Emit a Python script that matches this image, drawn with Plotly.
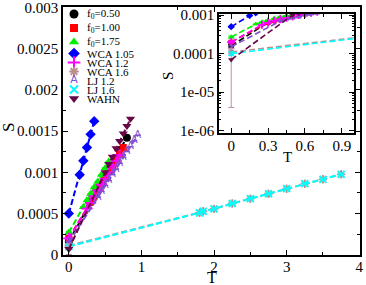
import plotly.graph_objects as go

# ---------------- data ----------------
T_f050 = [0.0, 0.3, 0.4, 0.5, 0.6, 0.7, 0.8]
S_f050 = [0.00016, 0.00064, 0.00080, 0.00096, 0.00112, 0.00127, 0.00142]

T_f100 = [0.0, 0.3, 0.35, 0.4, 0.45, 0.5, 0.55, 0.6, 0.65, 0.7, 0.75]
S_f100 = [0.00020, 0.00064, 0.00071, 0.00079, 0.00086, 0.00093, 0.00101, 0.00108, 0.00116, 0.00123, 0.00130]

T_f175 = [0.0, 0.2, 0.25, 0.3, 0.35, 0.4, 0.45, 0.5, 0.55]
S_f175 = [0.00027, 0.00058, 0.00066, 0.00074, 0.00082, 0.00089, 0.00097, 0.00105, 0.00113]

T_wca105 = [0.0, 0.15, 0.2, 0.25, 0.3, 0.35]
S_wca105 = [0.00050, 0.00097, 0.00114, 0.00130, 0.00146, 0.00162]

T_wca12 = [0.0, 0.25, 0.3, 0.35, 0.4, 0.45, 0.5, 0.55, 0.6, 0.65, 0.7]
S_wca12 = [0.00020, 0.00056, 0.00063, 0.00071, 0.00078, 0.00085, 0.00092, 0.00100, 0.00107, 0.00114, 0.00121]

T_wca16 = [0.0, 1.8, 1.85, 2.0, 2.25, 2.5, 2.75, 3.0, 3.25, 3.5, 3.75]
S_wca16 = [0.00011, 0.000508, 0.000528, 0.000557, 0.000622, 0.000680, 0.000740, 0.000801, 0.000862, 0.000915, 0.000976]

T_lj12 = [0.0, 0.4, 0.45, 0.5, 0.55, 0.6, 0.65, 0.7, 0.75, 0.8, 0.85, 0.9, 0.95]
S_lj12 = [0.00015, 0.00070, 0.00077, 0.00084, 0.00090, 0.00097, 0.00104, 0.00111, 0.00118, 0.00125, 0.00131, 0.00138, 0.00145]

T_lj16 = [0.0, 1.8, 1.85, 2.0, 2.25, 2.5, 2.75, 3.0, 3.25, 3.5, 3.75]
S_lj16 = [0.00010, 0.000508, 0.000528, 0.000557, 0.000622, 0.000680, 0.000740, 0.000801, 0.000862, 0.000915, 0.000976]

T_wahn = [0.0, 0.5, 0.55, 0.6, 0.65, 0.7, 0.75, 0.8, 0.85]
S_wahn = [0.00007, 0.00100, 0.00110, 0.00119, 0.00129, 0.00138, 0.00147, 0.00156, 0.00165]

# error on the T=0 (extrapolated) values
ERR0 = {"f050": 1.2e-5, "f100": 1.5e-5, "f175": 1.5e-5, "wca105": 1.5e-5, "wca12": 1.5e-5,
        "wca16": 1.2e-5, "lj12": 1.5e-5, "lj16": 1.0e-5, "wahn": 6.6e-5}

X_TICKS = [0, 1, 2, 3, 4]
X_TICK_LABELS = ["0", "1", "2", "3", "4"]
Y_TICKS = [0, 0.0005, 0.001, 0.0015, 0.002, 0.0025, 0.003]
Y_TICK_LABELS = ["0", "0.0005", "0.001", "0.0015", "0.002", "0.0025", "0.003"]
IX_TICKS = [0, 0.3, 0.6, 0.9]
IX_TICK_LABELS = ["0", "0.3", "0.6", "0.9"]
IY_TICKS = [1e-6, 1e-5, 1e-4, 1e-3]
IY_TICK_LABELS = ["1e-06", "1e-05", "0.0001", "0.001"]

series = [
    dict(key="f050", name="f<sub>0</sub>=0.50", T=T_f050, S=S_f050, color="#000000", symbol="circle", size=8, open=False),
    dict(key="f100", name="f<sub>0</sub>=1.00", T=T_f100, S=S_f100, color="#ff0000", symbol="square", size=7, open=False),
    dict(key="f175", name="f<sub>0</sub>=1.75", T=T_f175, S=S_f175, color="#00ee00", symbol="triangle-up", size=8, open=False),
    dict(key="wca105", name="WCA 1.05", T=T_wca105, S=S_wca105, color="#0000ff", symbol="diamond", size=8, open=False),
    dict(key="wca12", name="WCA 1.2", T=T_wca12, S=S_wca12, color="#ff00ff", symbol="cross-thin-open", size=8, open=True),
    dict(key="wca16", name="WCA 1.6", T=T_wca16, S=S_wca16, color="#bc8f8f", symbol="asterisk-open", size=7, open=True),
    dict(key="lj12", name="LJ 1.2", T=T_lj12, S=S_lj12, color="#8050d0", symbol="text", size=10, open=False),
    dict(key="lj16", name="LJ 1.6", T=T_lj16, S=S_lj16, color="#00ffff", symbol="x-thin-open", size=7, open=True),
    dict(key="wahn", name="WAHN", T=T_wahn, S=S_wahn, color="#670748", symbol="triangle-down", size=8, open=False),
]

FONT = "Liberation Serif"
DASH = "6px,3px"

fig = go.Figure()


def add_series(s, xa, ya, scale):
    err = [ERR0[s["key"]]] + [0] * (len(s["T"]) - 1)
    ecol = "#b88fb0" if s["key"] == "wahn" else s["color"]
    ebar = dict(type="data", array=err, visible=True, color=ecol, thickness=1, width=3)
    line = dict(color=s["color"], width=2 if scale > 0.8 else 1.6, dash=DASH)
    if s["symbol"] == "text":
        fig.add_trace(go.Scatter(x=s["T"], y=s["S"], mode="lines+text", text=["A"] * len(s["T"]),
                                 textposition="middle center",
                                 textfont=dict(family="DejaVu Sans", size=s["size"] * scale, color=s["color"]),
                                 line=line, error_y=ebar, xaxis=xa, yaxis=ya, showlegend=False))
    else:
        mk = dict(symbol=s["symbol"], size=s["size"] * scale, color=s["color"])
        if s["open"]:
            mk["line"] = dict(color=s["color"], width=1.8)
        else:
            mk["line"] = dict(width=0)
        fig.add_trace(go.Scatter(x=s["T"], y=s["S"], mode="lines+markers", marker=mk, line=line,
                                 error_y=ebar, xaxis=xa, yaxis=ya, showlegend=False))


for s in series:
    add_series(s, "x", "y", 1.0)
for s in series:
    add_series(s, "x2", "y2", 0.7)

# ---------------- manual legend (compact rows) ----------------
row_h = [14 if "<sub>" in s["name"] else 9 for s in series]
centers = []
top = 0
for h in row_h:
    centers.append(-(top + h / 2.0))
    top += h
MARK_X, TEXT_X = 11, 22
annotations = []
for s, yc in zip(series, centers):
    if s["symbol"] == "text":
        fig.add_trace(go.Scatter(x=[MARK_X], y=[yc], mode="text", text=["A"],
                                 textfont=dict(family="DejaVu Sans", size=11, color=s["color"]),
                                 xaxis="x3", yaxis="y3", showlegend=False, hoverinfo="skip"))
    else:
        mk = dict(symbol=s["symbol"], size=s["size"] + 1, color=s["color"])
        mk["line"] = dict(color=s["color"], width=2) if s["open"] else dict(width=0)
        fig.add_trace(go.Scatter(x=[MARK_X], y=[yc], mode="markers", marker=mk,
                                 xaxis="x3", yaxis="y3", showlegend=False, hoverinfo="skip"))
    annotations.append(dict(x=TEXT_X, y=yc, xref="x3", yref="y3", text=s["name"], showarrow=False,
                            xanchor="left", yanchor="middle", font=dict(family=FONT, size=11, color="black")))

W, H = 366, 285
ML, MR, MT, MB = 63, 6, 7, 30
pw, ph = W - ML - MR, H - MT - MB


def px2paper(px, py):
    return (px - ML) / pw, (H - MB - py) / ph


# axis titles placed as annotations (pixel positions from reference)
for txt, (px, py), size, ang in [("S", (8, 128), 17, -90), ("T", (212, 277), 16, 0),
                                  ("T", (287, 157), 15, 0), ("S", (168, 76), 15, -90)]:
    ax_, ay_ = px2paper(px, py)
    annotations.append(dict(x=ax_, y=ay_, xref="paper", yref="paper", text=txt, showarrow=False,
                            textangle=ang, xanchor="center", yanchor="middle",
                            font=dict(family=FONT, size=size, color="black")))

axis_common = dict(showgrid=False, zeroline=False, showline=True, linecolor="black", linewidth=1.5,
                   mirror="ticks", ticks="inside", ticklen=5, tickwidth=1, tickcolor="black",
                   automargin=False, ticklabeloverflow="allow",
                   tickfont=dict(family=FONT, size=15, color="black"))

fig.update_layout(
    width=W, height=H,
    margin=dict(l=ML, r=MR, t=MT, b=MB, autoexpand=False),
    paper_bgcolor="white", plot_bgcolor="white",
    showlegend=False,
    annotations=annotations,
    xaxis=dict(**axis_common, domain=[0, 1], range=[-0.08, 4.01], tickmode="array",
               tickvals=X_TICKS, ticktext=X_TICK_LABELS, ticklabelstandoff=-3,
               minor=dict(ticks="inside", dtick=0.5, ticklen=3, tickcolor="black")),
    yaxis=dict(**axis_common, domain=[0, 1], range=[-0.000002, 0.003003], tickmode="array",
               tickvals=Y_TICKS, ticktext=Y_TICK_LABELS,
               minor=dict(ticks="inside", dtick=0.00025, ticklen=3, tickcolor="black")),
    xaxis2=dict(**axis_common, domain=[0.525, 0.98], anchor="y2", range=[-0.1, 1.0], tickmode="array",
                tickvals=IX_TICKS, ticktext=IX_TICK_LABELS, ticklabelstandoff=-2,
                minor=dict(ticks="inside", dtick=0.15, ticklen=3, tickcolor="black")),
    yaxis2=dict(**axis_common, domain=[0.492, 0.972], anchor="x2", type="log", range=[-6.06, -2.97],
                tickmode="array", tickvals=IY_TICKS, ticktext=IY_TICK_LABELS,
                minor=dict(ticks="inside", ticklen=2, tickcolor="black", tickmode="array",
                           tickvals=[d * 10.0 ** e for e in range(-7, -2) for d in range(2, 10)])),
    xaxis3=dict(domain=[0, 0.35], range=[0, 0.35 * pw], visible=False, fixedrange=True),
    yaxis3=dict(domain=[0.6, 1.0], range=[-0.4 * ph, 0], visible=False, fixedrange=True, anchor="x3"),
)

fig.write_html("out.html", config={"displayModeBar": False},
               post_script="document.body.style.margin='0';document.body.style.padding='0';")
